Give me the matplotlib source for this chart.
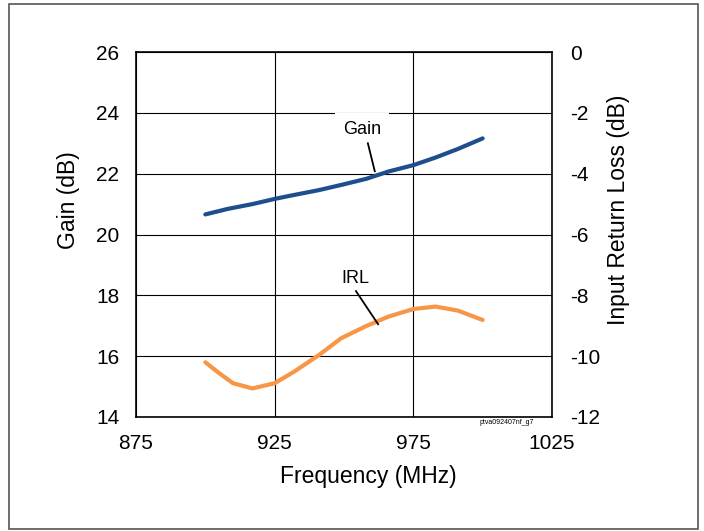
import matplotlib.pyplot as plt
from matplotlib.patches import Rectangle

plt.rcParams["font.family"] = ["Liberation Sans", "DejaVu Sans"]
plt.rcParams["axes.unicode_minus"] = False

gain_freq = [900, 908, 917, 925, 932, 941, 949, 958, 966, 975, 983, 991, 1000]
gain_db = [20.66, 20.84, 21.0, 21.17, 21.30, 21.46, 21.63, 21.83, 22.07, 22.28, 22.53, 22.81, 23.16]

irl_freq = [900, 905, 910, 917, 925, 932, 941, 949, 958, 966, 975, 983, 991, 1000]
irl_db = [-10.2, -10.56, -10.89, -11.06, -10.89, -10.51, -9.96, -9.41, -9.01, -8.70, -8.45,
          -8.37, -8.50, -8.81]

x_ticks = [875, 925, 975, 1025]
gain_ticks = [14, 16, 18, 20, 22, 24, 26]
irl_ticks = [-12, -10, -8, -6, -4, -2, 0]

W, H = 704, 531
fig = plt.figure(figsize=(W / 100, H / 100), dpi=100)
ax = fig.add_axes([136 / W, 1 - 417 / H, (552 - 136) / W, (417 - 52) / H])

# outer border
fig.add_artist(Rectangle((9 / W, 1 - 529 / H), (698 - 9) / W, (529 - 4) / H,
                         transform=fig.transFigure, fill=False, ec="#555555", lw=1.2))

ax.set_xlim(875, 1025)
ax.set_ylim(14, 26)
ax.set_xticks(x_ticks)
ax.set_yticks(gain_ticks)
ax.grid(True, color="black", lw=0.8)
ax.set_axisbelow(True)
ax.tick_params(length=0, labelsize=15, pad=12)
for s in ax.spines.values():
    s.set_linewidth(1.2)

ax2 = ax.twinx()
ax2.set_ylim(-12, 0)
ax2.set_yticks(irl_ticks)
ax2.tick_params(length=0, labelsize=15, pad=13)
for s in ax2.spines.values():
    s.set_visible(False)

ax.plot(gain_freq, gain_db, color="#1f4e8c", lw=3, solid_capstyle="round",
        solid_joinstyle="round", zorder=3)
ax2.plot(irl_freq, irl_db, color="#f79646", lw=3, solid_capstyle="round",
         solid_joinstyle="round", zorder=3)

fig.text(368 / W, 1 - 476 / H, "Frequency (MHz)", fontsize=16.5, ha="center", va="center")
fig.text(68 / W, 1 - 200 / H, "Gain (dB)", fontsize=16.5, rotation=90, ha="center", va="center")
fig.text(618 / W, 1 - 210 / H, "Input Return Loss (dB)", fontsize=16.5, rotation=90,
         ha="center", va="center")

# callouts
ax.text(956.5, 23.45, "Gain", fontsize=13, ha="center", va="center",
        bbox=dict(fc="white", ec="none", pad=6), zorder=4)
ax.plot([958.6, 961.1], [23.0, 22.08], color="black", lw=1.3, zorder=4)
ax2.text(954, -7.45, "IRL", fontsize=13, ha="center", va="center", zorder=4)
ax2.plot([954.3, 962.3], [-7.86, -8.95], color="black", lw=1.3, zorder=4)

ax.annotate("ptva092407nf_g7", xy=(1018.5, 14), xytext=(0, -1.5), textcoords="offset points",
            fontsize=5, ha="right", va="top", annotation_clip=False)

fig.savefig("out.png", dpi=100)
